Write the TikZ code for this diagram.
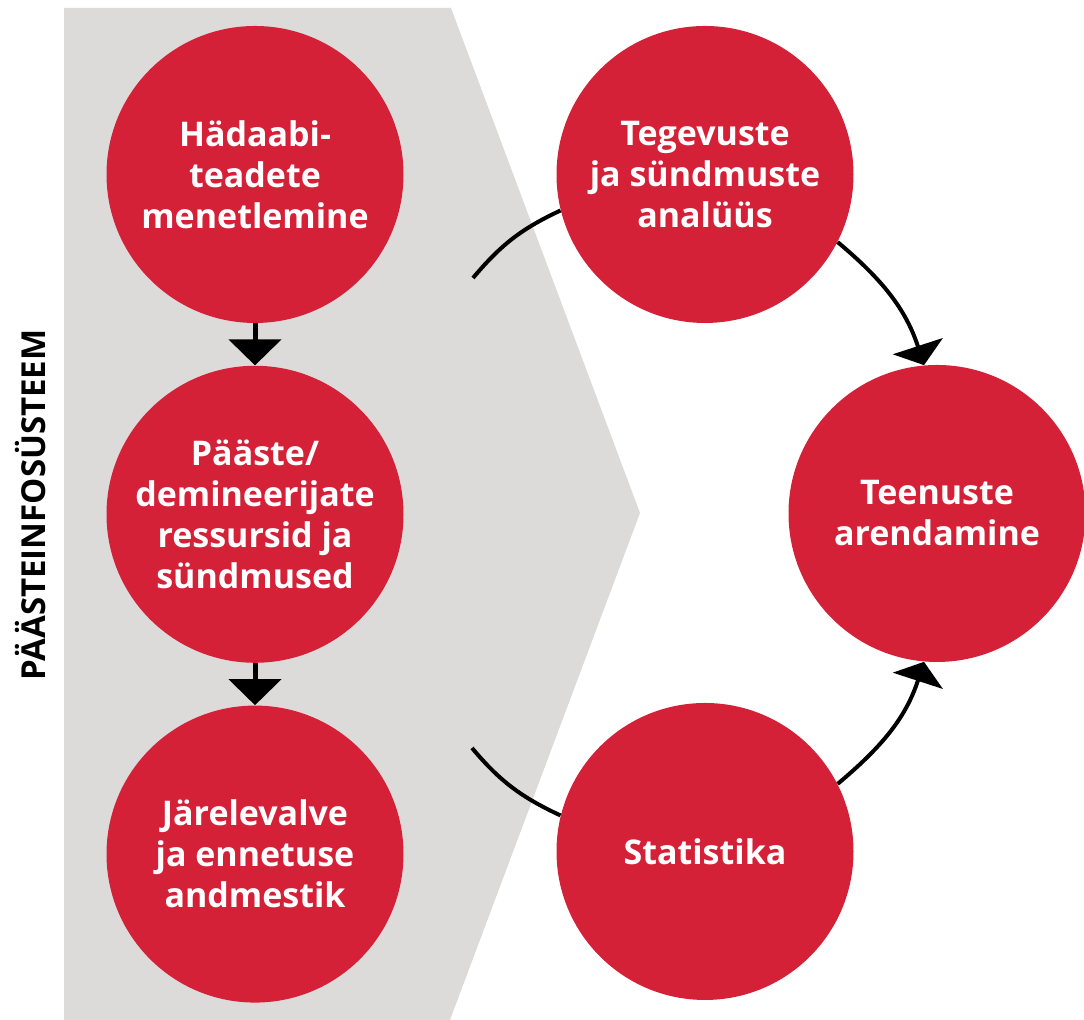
\documentclass[tikz,border=0pt]{standalone}
\usepackage{fontspec}
\setmainfont{Open Sans}
\usepackage{tikz}
\usetikzlibrary{arrows.meta, positioning}

\definecolor{rescueRed}{HTML}{D42138}
\definecolor{panelGray}{HTML}{DCDBDA}

\begin{document}
\begin{tikzpicture}[
        x=0.5pt, y=0.5pt,
        node distance=21pt,
        topic/.style={circle, fill=rescueRed, text=white, minimum size=148.5pt, inner sep=0pt, align=center, font=\bfseries\fontsize{17}{20.5}\selectfont},
        flow/.style={line width=2.5pt, -{Triangle[width=26pt, length=13pt]}},
        turn/.style={line width=2pt, -{Triangle[width=26pt, length=10pt]}},
        link/.style={line width=2pt}
    ]
    \useasboundingbox (0,0) rectangle (1084,1020);

    % grey chevron behind the system
    \fill [panelGray] (64,1012) -- (451,1012) -- (640,507) -- (450,0) -- (64,0) -- cycle;

    \node (system) [rotate=90, font=\bfseries\fontsize{16.5}{20}\selectfont] at (31,515) {PÄÄSTEINFOSÜSTEEM};

    \node (hadaabi) [topic] at (255,845.5) {Hädaabi-\\teadete\\menetlemine};
    \node (ressursid) [topic, below=of hadaabi] {Pääste/\\demineerijate\\ressursid ja\\sündmused};
    \node (jarelevalve) [topic, below=of ressursid] {Järelevalve\\ja ennetuse\\andmestik};

    \node (analuus) [topic] at (705,845.5) {Tegevuste\\ja sündmuste\\analüüs};
    \node (arendamine) [topic] at (937,506.5) {Teenuste\\arendamine};
    \node (statistika) [topic] at (705,168.5) {Statistika};

    \coordinate (upperEnd) at (473,742);
    \coordinate (lowerEnd) at (472,272);

    \draw [flow] (hadaabi) -- (ressursid);
    \draw [flow] (ressursid) -- (jarelevalve);

    % the cycle on the right
    \draw [link] (upperEnd) to[out=50, in=-155] (analuus.-166);
    \draw [link] (lowerEnd) to[out=-50, in=155] (statistika.166);
    \draw [turn] (analuus.-27) to[out=-40, in=108] (arendamine.95);
    \draw [turn] (statistika.27) to[out=40, in=-108] (arendamine.-95);

\end{tikzpicture}
\end{document}
